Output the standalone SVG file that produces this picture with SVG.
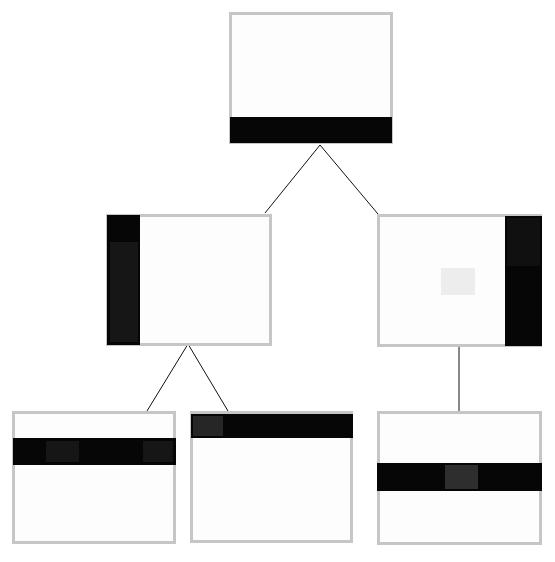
<svg xmlns="http://www.w3.org/2000/svg" width="555" height="562" viewBox="0 0 555 562">
<style>
.frame{fill:#fdfdfd;stroke:#c6c6c6;stroke-width:3}
.bar{fill:#060606}
.bar2{fill:#161616}
.conn{stroke:#111;stroke-width:1;fill:none}
</style>
<rect width="555" height="562" fill="#ffffff"/>
<g id="connectors">
<line class="conn" x1="320" y1="145" x2="265" y2="213"/>
<line class="conn" x1="320" y1="145" x2="378" y2="214"/>
<line class="conn" x1="188" y1="344" x2="147" y2="411"/>
<line class="conn" x1="188" y1="344" x2="228" y2="411"/>
<line class="conn" x1="459" y1="347" x2="459" y2="411"/>
</g>
<g id="node-top">
<rect class="frame" x="230.5" y="13.5" width="161" height="129"/>
<rect class="bar" x="230" y="117" width="162" height="26"/>
</g>
<g id="node-mid-left">
<rect class="frame" x="107.5" y="215.5" width="163" height="129"/>
<rect class="bar" x="107" y="215" width="33" height="130"/>
<rect class="bar2" x="110" y="242" width="28" height="100"/>
</g>
<g id="node-mid-right">
<rect class="frame" x="378.5" y="215.5" width="162" height="130"/>
<rect class="bar" x="505" y="216" width="37" height="130"/>
<rect x="507" y="218" width="33" height="48" fill="#101010"/>
<rect x="441" y="268" width="34" height="27" fill="#ededed"/>
</g>
<g id="node-bottom-left">
<rect class="frame" x="13.5" y="412.5" width="161" height="130"/>
<rect class="bar" x="13" y="438" width="163" height="27"/>
<rect class="bar2" x="46" y="441" width="33" height="21"/>
<rect class="bar2" x="143" y="441" width="30" height="21"/>
</g>
<g id="node-bottom-mid">
<rect class="frame" x="191.5" y="412.5" width="160" height="129"/>
<rect class="bar" x="191" y="414" width="162" height="24"/>
<rect x="193" y="416" width="30" height="20" fill="#262626"/>
</g>
<g id="node-bottom-right">
<rect class="frame" x="378.5" y="412.5" width="162" height="131"/>
<rect class="bar" x="377" y="463" width="165" height="28"/>
<rect x="445" y="465" width="33" height="24" fill="#2e2e2e"/>
</g>
</svg>
